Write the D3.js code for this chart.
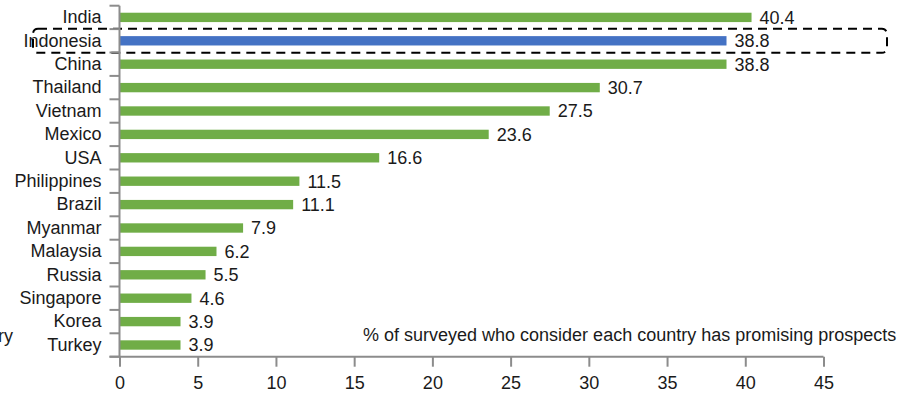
<!DOCTYPE html>
<html>
<head>
<meta charset="utf-8">
<script src="https://cdn.jsdelivr.net/npm/d3@7"></script>
<style>
  html, body { margin: 0; padding: 0; background: #fff; }
  svg { display: block; }
  text { font-family: "Liberation Sans", Arial, sans-serif; fill: #1a1a1a; }
</style>
</head>
<body>
<svg id="chart" width="915" height="394"></svg>
<script>
// Countries considered to have promising prospects
const countries = ["India", "Indonesia", "China", "Thailand", "Vietnam", "Mexico", "USA",
  "Philippines", "Brazil", "Myanmar", "Malaysia", "Russia", "Singapore", "Korea", "Turkey"];
const shares = [40.4, 38.8, 38.8, 30.7, 27.5, 23.6, 16.6, 11.5, 11.1, 7.9, 6.2, 5.5, 4.6, 3.9, 3.9];
const highlighted = ["Indonesia"];
const xTicks = [0, 5, 10, 15, 20, 25, 30, 35, 40, 45];
const legendText = "% of surveyed who consider each country has promising prospects";
const axisTitle = "Country";

const svg = d3.select("#chart");
const plotLeft = 119.5, plotRight = 823.5, plotTop = 5.7, plotBottom = 356.7;
const fontSize = 18;

const x = d3.scaleLinear().domain([0, 45]).range([plotLeft, plotRight]);
const y = d3.scaleBand().domain(countries).range([plotTop, plotBottom]).paddingInner(0.6).paddingOuter(0.3);
const step = y.step();

const axisColor = "#8c8c8c";

// Highlight frame around the featured country
const hy = y("Indonesia") + y.bandwidth() / 2;
svg.append("rect")
  .attr("x", 33).attr("y", hy - 12).attr("width", 854).attr("height", 24)
  .attr("rx", 5).attr("ry", 5)
  .attr("fill", "none").attr("stroke", "#000").attr("stroke-width", 2)
  .attr("stroke-dasharray", "9,6");

// Bars
svg.append("g").selectAll("rect").data(countries).join("rect")
  .attr("x", x(0))
  .attr("y", d => y(d))
  .attr("width", (d, i) => x(shares[i]) - x(0))
  .attr("height", y.bandwidth())
  .attr("fill", d => highlighted.includes(d) ? "#4472C4" : "#70AD47");

// Value labels
svg.append("g").selectAll("text").data(countries).join("text")
  .attr("x", (d, i) => x(shares[i]) + 8)
  .attr("y", d => y(d) + y.bandwidth() / 2)
  .attr("dy", "0.35em")
  .attr("font-size", fontSize)
  .text((d, i) => shares[i].toFixed(1));

// Category axis: line with ticks at band boundaries
const yAxis = svg.append("g");
yAxis.append("line")
  .attr("x1", plotLeft).attr("x2", plotLeft).attr("y1", plotTop).attr("y2", plotBottom)
  .attr("stroke", axisColor).attr("stroke-width", 2);
const boundaries = d3.range(countries.length + 1).map(i => plotTop + i * step);
yAxis.selectAll("line.tk").data(boundaries).join("line")
  .attr("class", "tk")
  .attr("x1", plotLeft - 10).attr("x2", plotLeft).attr("y1", d => d).attr("y2", d => d)
  .attr("stroke", axisColor).attr("stroke-width", 2);
yAxis.selectAll("text").data(countries).join("text")
  .attr("x", plotLeft - 18)
  .attr("y", d => y(d) + y.bandwidth() / 2)
  .attr("dy", "0.32em")
  .attr("text-anchor", "end")
  .attr("font-size", fontSize)
  .text(d => d);

// Value axis
const xAxis = svg.append("g").attr("transform", `translate(0,${plotBottom})`)
  .call(d3.axisBottom(x).tickValues(xTicks).tickSize(10).tickPadding(10).tickSizeOuter(0));
xAxis.select(".domain").attr("stroke", axisColor).attr("stroke-width", 2)
  .attr("d", `M${plotLeft - 10},0H${plotRight}`);
xAxis.selectAll(".tick line").attr("stroke", axisColor).attr("stroke-width", 2);
xAxis.selectAll(".tick text").attr("font-size", fontSize)
  .attr("font-family", "'Liberation Sans', Arial, sans-serif").attr("fill", "#1a1a1a");

// Series legend text
svg.append("text")
  .attr("x", 363).attr("y", 335).attr("dy", "0.35em")
  .attr("font-size", fontSize)
  .text(legendText);

// Axis title, partly outside the left edge
svg.append("text")
  .attr("x", 13).attr("y", 336).attr("dy", "0.35em")
  .attr("text-anchor", "end")
  .attr("font-size", fontSize)
  .text(axisTitle);
</script>
</body>
</html>
